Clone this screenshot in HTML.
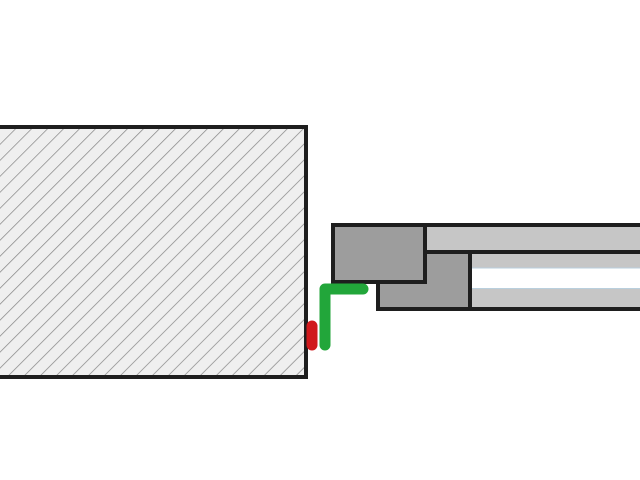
<!DOCTYPE html>
<html><head><style>html,body{margin:0;padding:0;background:#fff;}svg{display:block}</style></head>
<body>
<svg width="640" height="480" viewBox="0 0 640 480" xmlns="http://www.w3.org/2000/svg">
<defs>
<pattern id="h" patternUnits="userSpaceOnUse" width="11.3" height="11.3" patternTransform="rotate(45)">
<rect width="11.3" height="11.3" fill="#efefef"/>
<line x1="0" y1="0" x2="0" y2="11.3" stroke="#8a8a8a" stroke-width="1.5"/>
</pattern>
</defs>
<rect x="-5" y="127" width="311" height="250" fill="url(#h)" stroke="#1e1e1e" stroke-width="4"/>
<rect x="425" y="225" width="220" height="27" fill="#c6c6c6"/>
<rect x="470" y="252" width="175" height="57" fill="#c6c6c6"/>
<rect x="470" y="268.5" width="175" height="19.5" fill="#fff"/>
<line x1="472" y1="268" x2="640" y2="268" stroke="#b4d2e4" stroke-width="0.8"/>
<line x1="472" y1="288.5" x2="640" y2="288.5" stroke="#b4d2e4" stroke-width="0.8"/>
<rect x="378" y="252" width="92" height="57" fill="#9d9d9d" stroke="#1e1e1e" stroke-width="4"/>
<rect x="333" y="225" width="92" height="57" fill="#9d9d9d" stroke="#1e1e1e" stroke-width="4"/>
<line x1="425" y1="225" x2="645" y2="225" stroke="#1e1e1e" stroke-width="4"/>
<line x1="425" y1="252" x2="645" y2="252" stroke="#1e1e1e" stroke-width="4"/>
<line x1="470" y1="309" x2="645" y2="309" stroke="#1e1e1e" stroke-width="4"/>
<path d="M325 345 V289 H363" fill="none" stroke="#22a63a" stroke-width="11" stroke-linecap="round" stroke-linejoin="round"/>
<line x1="312" y1="326" x2="312" y2="345" stroke="#d0191c" stroke-width="11" stroke-linecap="round"/>
</svg>
</body></html>
